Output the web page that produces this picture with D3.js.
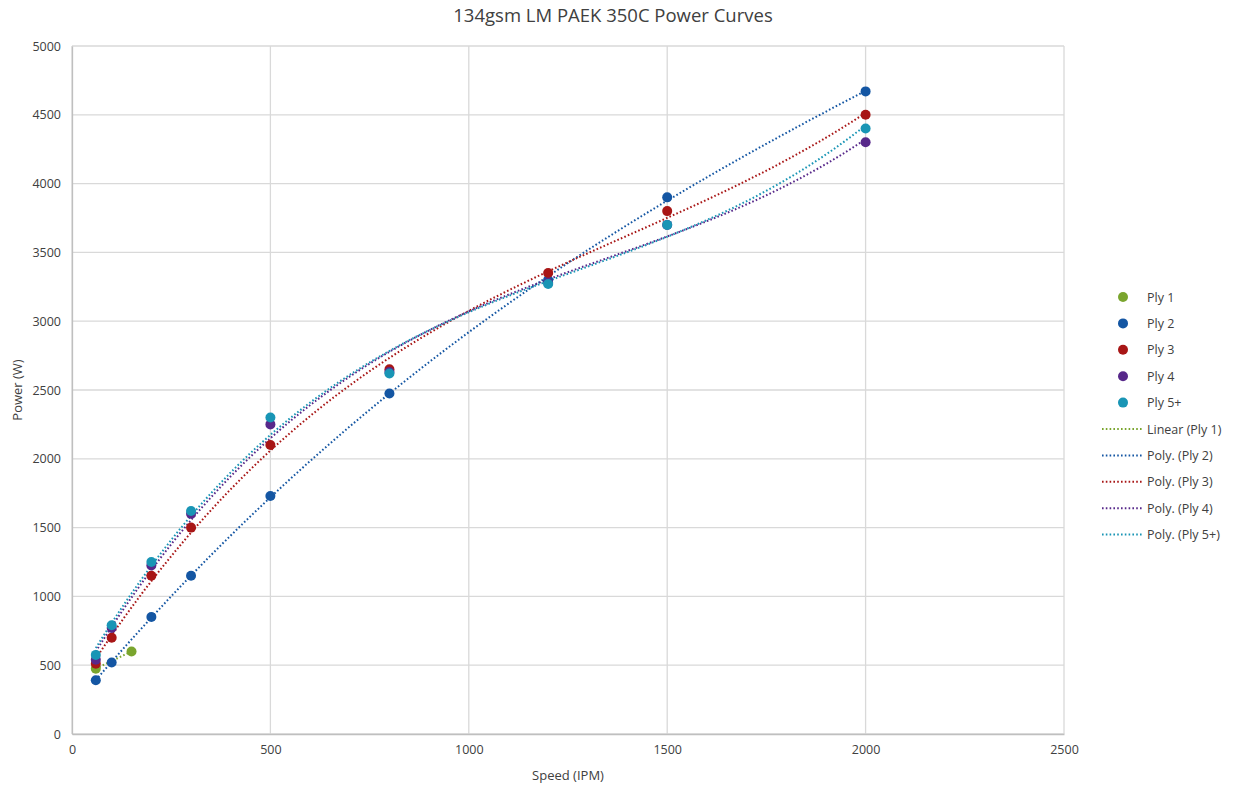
<!DOCTYPE html>
<html><head><meta charset="utf-8">
<script src="https://cdn.jsdelivr.net/npm/d3@7"></script>
<style>body{margin:0;background:#fff;} text{font-family:"Open Sans","Liberation Sans",sans-serif;fill:#404040;}</style>
</head><body>
<svg id="c" width="1237" height="788"></svg>
<script>
const title = "134gsm LM PAEK 350C Power Curves";
const xTicks = [0, 500, 1000, 1500, 2000, 2500];
const yTicks = [0, 500, 1000, 1500, 2000, 2500, 3000, 3500, 4000, 4500, 5000];
const seriesNames = ["Ply 1", "Ply 2", "Ply 3", "Ply 4", "Ply 5+"];
const seriesColors = ["#7aa52e", "#1456a3", "#a81616", "#57288a", "#1995b5"];
const trendNames = ["Linear (Ply 1)", "Poly. (Ply 2)", "Poly. (Ply 3)", "Poly. (Ply 4)", "Poly. (Ply 5+)"];
const ply1 = [[60, 475], [150, 600]];
const ply2 = [[60, 390], [100, 520], [200, 850], [300, 1150], [500, 1730], [800, 2475], [1200, 3300], [1500, 3900], [2000, 4670]];
const ply3 = [[60, 510], [100, 700], [200, 1150], [300, 1500], [500, 2100], [800, 2650], [1200, 3350], [1500, 3800], [2000, 4500]];
const ply4 = [[60, 540], [100, 770], [200, 1225], [300, 1600], [500, 2250], [800, 2630], [1200, 3280], [1500, 3700], [2000, 4300]];
const ply5 = [[60, 575], [100, 790], [200, 1250], [300, 1620], [500, 2300], [800, 2620], [1200, 3270], [1500, 3700], [2000, 4400]];
const allSeries = [ply1, ply2, ply3, ply4, ply5];
const trendOrder = [1, 3, 3, 3, 3];

const svg = d3.select("#c");
const x = d3.scaleLinear().domain([0, 2500]).range([72, 1064]);
const y = d3.scaleLinear().domain([0, 5000]).range([734, 46]);

function polyfit(pts, order) {
  const s = 1000;
  const n = order + 1;
  const A = Array.from({length: n}, () => Array(n + 1).fill(0));
  pts.forEach(([px0, py]) => {
    const px = px0 / s;
    for (let i = 0; i < n; i++) {
      for (let j = 0; j < n; j++) A[i][j] += Math.pow(px, i + j);
      A[i][n] += py * Math.pow(px, i);
    }
  });
  for (let i = 0; i < n; i++) {
    let m = i;
    for (let k = i + 1; k < n; k++) if (Math.abs(A[k][i]) > Math.abs(A[m][i])) m = k;
    [A[i], A[m]] = [A[m], A[i]];
    for (let k = i + 1; k < n; k++) {
      const f = A[k][i] / A[i][i];
      for (let j = i; j <= n; j++) A[k][j] -= f * A[i][j];
    }
  }
  const c = Array(n).fill(0);
  for (let i = n - 1; i >= 0; i--) {
    let t = A[i][n];
    for (let j = i + 1; j < n; j++) t -= A[i][j] * c[j];
    c[i] = t / A[i][i];
  }
  return xv => c.reduce((acc, ci, i) => acc + ci * Math.pow(xv / s, i), 0);
}

const g = svg.append("g");
g.selectAll(".hg").data(yTicks).enter().append("line")
  .attr("x1", x(0)).attr("x2", x(2500)).attr("y1", d => y(d)).attr("y2", d => y(d))
  .attr("stroke", "#d9d9d9").attr("stroke-width", 1.3);
g.selectAll(".vg").data(xTicks).enter().append("line")
  .attr("y1", y(0)).attr("y2", y(5000)).attr("x1", d => x(d)).attr("x2", d => x(d))
  .attr("stroke", "#d9d9d9").attr("stroke-width", 1.3);

const xAxis = svg.append("g").attr("transform", `translate(0,${y(0)})`)
  .call(d3.axisBottom(x).tickValues(xTicks).tickFormat(d3.format("d")).tickSize(0).tickPadding(11));
const yAxis = svg.append("g").attr("transform", `translate(${x(0)},0)`)
  .call(d3.axisLeft(y).tickValues(yTicks).tickFormat(d3.format("d")).tickSize(0).tickPadding(11));
[xAxis, yAxis].forEach(a => {
  a.select(".domain").attr("stroke", "#bfbfbf").attr("stroke-width", 1.3);
  a.selectAll("text").attr("font-size", 12.5).attr("fill", "#404040")
    .attr("font-family", "'Open Sans','Liberation Sans',sans-serif");
});

const line = d3.line().x(d => x(d[0])).y(d => y(d[1]));
allSeries.forEach((s, i) => {
  const f = polyfit(s, trendOrder[i]);
  const xs = d3.extent(s, d => d[0]);
  const pts = d3.range(xs[0], xs[1] + 0.001, (xs[1] - xs[0]) / 200).map(v => [v, f(v)]);
  svg.append("path").attr("d", line(pts)).attr("fill", "none")
    .attr("stroke", seriesColors[i]).attr("stroke-width", 2)
    .attr("stroke-dasharray", "1.6,2.2");
});

allSeries.forEach((s, i) => {
  svg.append("g").selectAll("circle").data(s).enter().append("circle")
    .attr("cx", d => x(d[0])).attr("cy", d => y(d[1])).attr("r", 5)
    .attr("fill", seriesColors[i]);
});

svg.append("text").attr("x", 613).attr("y", 22).attr("text-anchor", "middle")
  .attr("font-size", 18.5).text(title);
svg.append("text").attr("x", 568).attr("y", 780).attr("text-anchor", "middle")
  .attr("font-size", 13).text("Speed (IPM)");
svg.append("text").attr("transform", "translate(22,390) rotate(-90)").attr("text-anchor", "middle")
  .attr("font-size", 13).text("Power (W)");

const lg = svg.append("g");
const ly0 = 297, ldy = 26.4;
seriesNames.forEach((n, i) => {
  const yy = ly0 + i * ldy;
  lg.append("circle").attr("cx", 1123).attr("cy", yy).attr("r", 5).attr("fill", seriesColors[i]);
  lg.append("text").attr("x", 1147).attr("y", yy + 4.5).attr("font-size", 12.5).text(n);
});
trendNames.forEach((n, i) => {
  const yy = ly0 + (i + 5) * ldy;
  lg.append("line").attr("x1", 1102).attr("x2", 1142).attr("y1", yy).attr("y2", yy)
    .attr("stroke", seriesColors[i]).attr("stroke-width", 2).attr("stroke-dasharray", "1.6,2.2");
  lg.append("text").attr("x", 1147).attr("y", yy + 4.5).attr("font-size", 12.5).text(n);
});
</script>
</body></html>
